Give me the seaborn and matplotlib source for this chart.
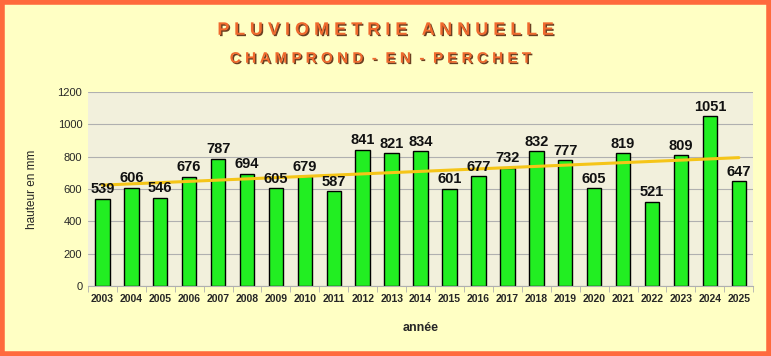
import numpy as np
import pandas as pd
import matplotlib
matplotlib.use("Agg")
import matplotlib.pyplot as plt
import matplotlib.patheffects as pe
from matplotlib.patches import Rectangle
import seaborn as sns

annees = ["2003", "2004", "2005", "2006", "2007", "2008", "2009", "2010", "2011", "2012",
          "2013", "2014", "2015", "2016", "2017", "2018", "2019", "2020", "2021", "2022",
          "2023", "2024", "2025"]
pluie = [539, 606, 546, 676, 787, 694, 605, 679, 587, 841,
         821, 834, 601, 677, 732, 832, 777, 605, 819, 521,
         809, 1051, 647]
y_ticks = [0, 200, 400, 600, 800, 1000, 1200]

df = pd.DataFrame({"annee": annees, "pluie": pluie})

sns.set_style("whitegrid")
plt.rcParams['font.family'] = ['Liberation Sans', 'DejaVu Sans']

fig = plt.figure(figsize=(7.71, 3.56), dpi=100)
fig.patch.set_facecolor("#FFFFC4")
fig.patches.append(Rectangle((0.003, 0.006), 0.994, 0.988, transform=fig.transFigure,
                             fill=False, edgecolor="#FF6A3D", linewidth=4, zorder=10))

ax = fig.add_axes([0.114, 0.197, 0.863, 0.545])
ax.set_facecolor("#F2F0DC")

sns.barplot(data=df, x="annee", y="pluie", color="#22EE22", edgecolor="black",
            linewidth=1, width=0.5, saturation=1, ax=ax, zorder=2)

# courbe de tendance
x = np.arange(len(pluie))
a, b = np.polyfit(x, pluie, 1)
ax.plot(x, a * x + b, color="#F5C518", linewidth=2.2, zorder=3)

for i, v in enumerate(pluie):
    ax.text(i, v + 15, str(v), ha="center", va="bottom", fontsize=10.5,
            fontweight="bold", color="#111111", zorder=4)

ax.set_ylim(0, 1200)
ax.set_xlim(-0.5, len(pluie) - 0.5)
ax.set_yticks(y_ticks)
ax.yaxis.grid(True, color="#B0B0B0", linewidth=0.8)
ax.xaxis.grid(False)
for s in ax.spines.values():
    s.set_visible(False)
ax.spines["bottom"].set_visible(True)
ax.spines["bottom"].set_color("#B0B0B0")
ax.set_xticks(np.arange(-0.5, len(pluie), 1), minor=True)
ax.tick_params(axis="x", which="minor", length=4, color="#B0B0B0", direction="out", bottom=True)
ax.tick_params(axis="x", which="major", length=0, labelsize=7.5, pad=6)
ax.tick_params(axis="y", length=0, labelsize=8, pad=4)
for lbl in ax.get_xticklabels():
    lbl.set_fontweight("bold")

ax.set_xlabel("année", fontsize=9, fontweight="bold", labelpad=13)
ax.set_ylabel("hauteur en mm", fontsize=8.5, labelpad=14)

shadow = [pe.withSimplePatchShadow(offset=(1, -1), shadow_rgbFace="#5A2A10", alpha=0.9)]
fig.text(0.5, 0.915, " ".join("PLUVIOMETRIE") + "   " + " ".join("ANNUELLE"),
         ha="center", va="center", fontsize=13, fontweight="bold", color="#F06A2E",
         path_effects=shadow)
fig.text(0.493, 0.835, " ".join("CHAMPROND") + "  -  " + " ".join("EN") + "  -  " + " ".join("PERCHET"),
         ha="center", va="center", fontsize=11, fontweight="bold", color="#F06A2E",
         path_effects=shadow)

fig.savefig("out.png", dpi=100, facecolor=fig.get_facecolor())
